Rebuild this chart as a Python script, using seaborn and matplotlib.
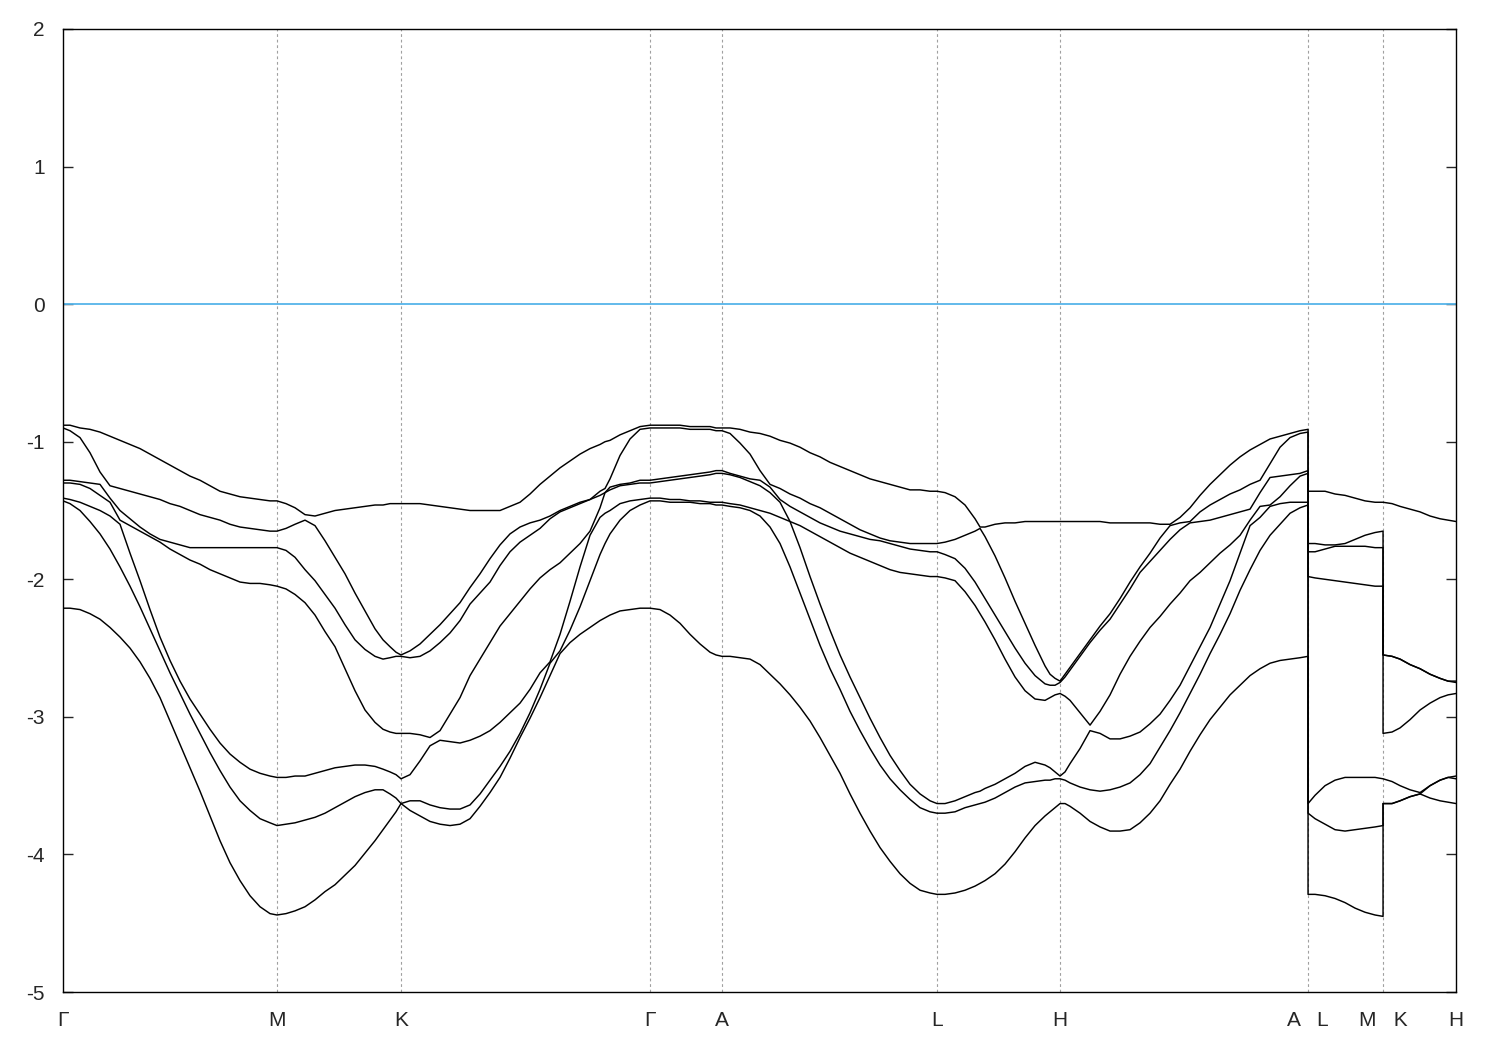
import matplotlib
matplotlib.use("Agg")
import matplotlib.pyplot as plt
import seaborn as sns
import pandas as pd

# k-path distance along G-M-K-G-A-L-H-A|L-M|K-H (points repeated at the two jumps)
kpath = [0.00, 0.07, 0.17, 0.27, 0.37, 0.47, 0.57, 0.67, 0.77, 0.87, 0.97, 1.07, 1.17, 1.27,
         1.37, 1.47, 1.57, 1.67, 1.77, 1.87, 1.97, 2.07, 2.14,
         2.23, 2.32, 2.42, 2.52, 2.62, 2.72, 2.82, 2.92, 3.02, 3.12, 3.20, 3.27, 3.33, 3.38,
         3.47, 3.57, 3.67, 3.77, 3.87, 3.97, 4.07, 4.17, 4.27, 4.37, 4.47, 4.57, 4.67, 4.77,
         4.87, 4.97, 5.07, 5.17, 5.27, 5.37, 5.42, 5.47, 5.57, 5.67, 5.77, 5.87,
         5.97, 6.07, 6.17, 6.27, 6.37, 6.47, 6.53, 6.59,
         6.67, 6.77, 6.87, 6.97, 7.07, 7.17, 7.27, 7.37, 7.47, 7.57, 7.67, 7.77, 7.87, 7.97,
         8.07, 8.17, 8.27, 8.37, 8.47, 8.57, 8.67, 8.74,
         8.82, 8.92, 9.02, 9.12, 9.17, 9.22, 9.32, 9.42, 9.52, 9.62, 9.72, 9.82, 9.87, 9.92, 9.97,
         10.02, 10.07, 10.17, 10.27, 10.37, 10.47, 10.57, 10.67, 10.77, 10.87, 10.97, 11.07,
         11.17, 11.27, 11.37, 11.47, 11.57, 11.67, 11.77, 11.87, 11.97, 12.07, 12.17, 12.27,
         12.37, 12.45,
         12.45, 12.52, 12.62, 12.72, 12.82, 12.92, 13.02, 13.12, 13.20,
         13.20, 13.29, 13.37, 13.47, 13.57, 13.67, 13.77, 13.85, 13.93]

# band energies in eV (band1 = highest), same order as kpath
band1 = [-0.88, -0.88, -0.90, -0.91, -0.93, -0.96, -0.99, -1.02, -1.05, -1.09, -1.13, -1.17,
         -1.21, -1.25, -1.28, -1.32, -1.36, -1.38, -1.40, -1.41, -1.42, -1.43, -1.43,
         -1.45, -1.48, -1.53, -1.54, -1.52, -1.50, -1.49, -1.48, -1.47, -1.46, -1.46, -1.45,
         -1.45, -1.45,
         -1.45, -1.45, -1.46, -1.47, -1.48, -1.49, -1.50, -1.50, -1.50, -1.50, -1.47, -1.44,
         -1.38, -1.31, -1.25, -1.19, -1.14, -1.09, -1.05, -1.02, -1.00, -0.99, -0.95, -0.92,
         -0.89, -0.88,
         -0.88, -0.88, -0.88, -0.89, -0.89, -0.89, -0.90, -0.90,
         -0.90, -0.91, -0.93, -0.94, -0.96, -0.99, -1.01, -1.04, -1.08, -1.11, -1.15, -1.18,
         -1.21, -1.24, -1.27, -1.29, -1.31, -1.33, -1.35, -1.35, -1.36, -1.36,
         -1.37, -1.40, -1.46, -1.56, -1.62, -1.62, -1.60, -1.59, -1.59, -1.58, -1.58, -1.58,
         -1.58, -1.58, -1.58,
         -1.58, -1.58, -1.58, -1.58, -1.58, -1.59, -1.59, -1.59, -1.59, -1.59, -1.60, -1.60,
         -1.55, -1.48, -1.39, -1.31, -1.24, -1.17, -1.11, -1.06, -1.02, -0.98, -0.96, -0.94,
         -0.92, -0.91,
         -1.36, -1.36, -1.36, -1.38, -1.39, -1.41, -1.43, -1.44, -1.44,
         -1.44, -1.45, -1.47, -1.49, -1.51, -1.54, -1.56, -1.57, -1.58]
band2 = [-0.90, -0.92, -0.97, -1.08, -1.22, -1.32, -1.34, -1.36, -1.38, -1.40, -1.42, -1.45,
         -1.47, -1.50, -1.53, -1.55, -1.57, -1.60, -1.62, -1.63, -1.64, -1.65, -1.65,
         -1.63, -1.60, -1.57, -1.61, -1.72, -1.84, -1.96, -2.10, -2.23, -2.36, -2.44, -2.49,
         -2.53, -2.55,
         -2.52, -2.47, -2.40, -2.33, -2.25, -2.17, -2.06, -1.96, -1.85, -1.75, -1.67, -1.62,
         -1.59, -1.57, -1.54, -1.50, -1.47, -1.44, -1.42, -1.36, -1.34, -1.27, -1.10, -0.98,
         -0.91, -0.90,
         -0.90, -0.90, -0.90, -0.91, -0.91, -0.91, -0.92, -0.92,
         -0.94, -1.01, -1.09, -1.21, -1.31, -1.34, -1.38, -1.41, -1.45, -1.48, -1.52, -1.56,
         -1.60, -1.64, -1.67, -1.70, -1.72, -1.73, -1.74, -1.74, -1.74, -1.74,
         -1.73, -1.71, -1.68, -1.65, -1.63, -1.69, -1.83, -1.99, -2.16, -2.32, -2.48, -2.63,
         -2.69, -2.72, -2.74,
         -2.69, -2.64, -2.54, -2.44, -2.34, -2.25, -2.14, -2.02, -1.91, -1.81, -1.70, -1.61,
         -1.59, -1.58, -1.51, -1.46, -1.42, -1.38, -1.35, -1.31, -1.28, -1.16, -1.04, -0.97,
         -0.94, -0.93,
         -1.74, -1.74, -1.75, -1.75, -1.74, -1.71, -1.68, -1.66, -1.65,
         -2.55, -2.56, -2.58, -2.62, -2.65, -2.69, -2.72, -2.74, -2.74]
band3 = [-1.28, -1.28, -1.29, -1.30, -1.31, -1.41, -1.50, -1.56, -1.62, -1.67, -1.71, -1.73,
         -1.75, -1.77, -1.77, -1.77, -1.77, -1.77, -1.77, -1.77, -1.77, -1.77, -1.77,
         -1.79, -1.84, -1.93, -2.01, -2.11, -2.21, -2.33, -2.44, -2.51, -2.56, -2.58, -2.57,
         -2.56, -2.56,
         -2.57, -2.56, -2.52, -2.46, -2.39, -2.30, -2.18, -2.10, -2.02, -1.90, -1.80, -1.73,
         -1.68, -1.63, -1.56, -1.51, -1.48, -1.45, -1.42, -1.39, -1.37, -1.33, -1.31, -1.30,
         -1.28, -1.28,
         -1.27, -1.26, -1.25, -1.24, -1.23, -1.22, -1.21, -1.21,
         -1.23, -1.25, -1.27, -1.28, -1.33, -1.42, -1.47, -1.51, -1.55, -1.59, -1.62, -1.65,
         -1.67, -1.69, -1.71, -1.72, -1.74, -1.76, -1.78, -1.79, -1.80, -1.80,
         -1.82, -1.85, -1.92, -2.02, -2.08, -2.14, -2.26, -2.38, -2.50, -2.61, -2.70, -2.76,
         -2.77, -2.77, -2.75,
         -2.71, -2.66, -2.56, -2.46, -2.37, -2.29, -2.18, -2.07, -1.95, -1.87, -1.79, -1.71,
         -1.64, -1.59, -1.58, -1.57, -1.55, -1.53, -1.51, -1.49, -1.37, -1.26, -1.25, -1.24,
         -1.23, -1.21,
         -1.80, -1.80, -1.78, -1.76, -1.76, -1.76, -1.76, -1.77, -1.77,
         -2.55, -2.56, -2.58, -2.62, -2.65, -2.69, -2.72, -2.74, -2.75]
band4 = [-1.30, -1.30, -1.31, -1.34, -1.39, -1.44, -1.57, -1.61, -1.65, -1.69, -1.73, -1.78,
         -1.82, -1.86, -1.89, -1.93, -1.96, -1.99, -2.02, -2.03, -2.03, -2.04, -2.05,
         -2.07, -2.11, -2.17, -2.26, -2.38, -2.49, -2.65, -2.81, -2.95, -3.04, -3.09, -3.11,
         -3.12, -3.12,
         -3.12, -3.13, -3.15, -3.10, -2.98, -2.86, -2.70, -2.58, -2.46, -2.34, -2.25, -2.16,
         -2.07, -1.99, -1.93, -1.88, -1.81, -1.74, -1.65, -1.48, -1.37, -1.35, -1.32, -1.31,
         -1.30, -1.30,
         -1.29, -1.28, -1.27, -1.26, -1.25, -1.24, -1.23, -1.23,
         -1.24, -1.26, -1.29, -1.32, -1.37, -1.44, -1.58, -1.61, -1.65, -1.69, -1.73, -1.77,
         -1.81, -1.84, -1.87, -1.90, -1.93, -1.95, -1.96, -1.97, -1.98, -1.98,
         -1.99, -2.01, -2.09, -2.19, -2.25, -2.31, -2.44, -2.58, -2.71, -2.81, -2.87, -2.88,
         -2.86, -2.84, -2.83,
         -2.85, -2.88, -2.97, -3.06, -2.96, -2.84, -2.69, -2.56, -2.45, -2.35, -2.27, -2.18,
         -2.10, -2.01, -1.95, -1.88, -1.81, -1.75, -1.68, -1.57, -1.47, -1.46, -1.40, -1.32,
         -1.25, -1.23,
         -1.98, -1.99, -2.00, -2.01, -2.02, -2.03, -2.04, -2.05, -2.05,
         -3.12, -3.11, -3.08, -3.02, -2.95, -2.90, -2.86, -2.84, -2.83]
band5 = [-1.41, -1.42, -1.44, -1.47, -1.50, -1.54, -1.60, -1.81, -2.01, -2.22, -2.42, -2.59,
         -2.74, -2.87, -2.98, -3.09, -3.19, -3.27, -3.33, -3.38, -3.41, -3.43, -3.44,
         -3.44, -3.43, -3.43, -3.41, -3.39, -3.37, -3.36, -3.35, -3.35, -3.36, -3.38, -3.40,
         -3.42, -3.45,
         -3.42, -3.32, -3.21, -3.17, -3.18, -3.19, -3.17, -3.14, -3.10, -3.04, -2.97, -2.90,
         -2.80, -2.68, -2.60, -2.40, -2.16, -1.91, -1.68, -1.55, -1.52, -1.50, -1.45, -1.43,
         -1.42, -1.41,
         -1.41, -1.42, -1.42, -1.43, -1.43, -1.44, -1.44, -1.44,
         -1.45, -1.46, -1.48, -1.50, -1.52, -1.55, -1.58, -1.77, -1.98, -2.18, -2.37, -2.55,
         -2.71, -2.86, -3.01, -3.15, -3.28, -3.39, -3.49, -3.56, -3.61, -3.63,
         -3.63, -3.61, -3.58, -3.55, -3.54, -3.52, -3.49, -3.45, -3.41, -3.36, -3.33, -3.35,
         -3.37, -3.40, -3.43,
         -3.40, -3.34, -3.23, -3.10, -3.12, -3.16, -3.16, -3.14, -3.11, -3.05, -2.98, -2.88,
         -2.77, -2.63, -2.49, -2.35, -2.18, -2.01, -1.81, -1.61, -1.55, -1.47, -1.45, -1.44,
         -1.44, -1.44,
         -3.63, -3.57, -3.50, -3.46, -3.44, -3.44, -3.44, -3.44, -3.45,
         -3.45, -3.47, -3.50, -3.53, -3.55, -3.50, -3.46, -3.44, -3.43]
band6 = [-1.43, -1.45, -1.50, -1.58, -1.67, -1.78, -1.91, -2.05, -2.20, -2.36, -2.52, -2.68,
         -2.83, -2.98, -3.12, -3.26, -3.39, -3.51, -3.61, -3.68, -3.74, -3.77, -3.79,
         -3.78, -3.77, -3.75, -3.73, -3.70, -3.66, -3.62, -3.58, -3.55, -3.53, -3.53, -3.56,
         -3.59, -3.63,
         -3.61, -3.61, -3.64, -3.66, -3.67, -3.67, -3.64, -3.56, -3.46, -3.36, -3.25, -3.12,
         -2.97, -2.80, -2.61, -2.52, -2.37, -2.20, -2.01, -1.82, -1.74, -1.67, -1.57, -1.50,
         -1.46, -1.43,
         -1.43, -1.44, -1.44, -1.44, -1.45, -1.45, -1.46, -1.46,
         -1.47, -1.48, -1.50, -1.54, -1.62, -1.74, -1.91, -2.10, -2.29, -2.48, -2.65, -2.80,
         -2.96, -3.10, -3.23, -3.35, -3.45, -3.53, -3.60, -3.66, -3.69, -3.70,
         -3.70, -3.69, -3.66, -3.64, -3.63, -3.62, -3.59, -3.55, -3.51, -3.48, -3.47, -3.46,
         -3.46, -3.45, -3.45,
         -3.46, -3.48, -3.51, -3.53, -3.54, -3.53, -3.51, -3.48, -3.42, -3.34, -3.22, -3.10,
         -2.97, -2.83, -2.69, -2.54, -2.40, -2.25, -2.08, -1.93, -1.79, -1.68, -1.60, -1.52,
         -1.48, -1.46,
         -3.70, -3.74, -3.78, -3.82, -3.83, -3.82, -3.81, -3.80, -3.79,
         -3.63, -3.63, -3.61, -3.58, -3.56, -3.50, -3.46, -3.44, -3.45]
band7 = [-2.21, -2.21, -2.22, -2.25, -2.29, -2.35, -2.42, -2.50, -2.60, -2.72, -2.86, -3.03,
         -3.20, -3.37, -3.54, -3.72, -3.90, -4.06, -4.19, -4.30, -4.38, -4.43, -4.44,
         -4.43, -4.41, -4.38, -4.33, -4.27, -4.22, -4.15, -4.08, -3.99, -3.90, -3.82, -3.75,
         -3.69, -3.63,
         -3.68, -3.72, -3.76, -3.78, -3.79, -3.78, -3.74, -3.65, -3.55, -3.44, -3.30, -3.15,
         -3.01, -2.86, -2.70, -2.54, -2.46, -2.40, -2.35, -2.30, -2.28, -2.26, -2.23, -2.22,
         -2.21, -2.21,
         -2.22, -2.26, -2.32, -2.40, -2.47, -2.53, -2.55, -2.56,
         -2.56, -2.57, -2.58, -2.62, -2.69, -2.76, -2.84, -2.93, -3.03, -3.15, -3.28, -3.41,
         -3.56, -3.70, -3.83, -3.95, -4.05, -4.14, -4.21, -4.26, -4.28, -4.29,
         -4.29, -4.28, -4.26, -4.23, -4.21, -4.19, -4.14, -4.07, -3.98, -3.88, -3.79, -3.72,
         -3.69, -3.66, -3.63,
         -3.63, -3.65, -3.70, -3.76, -3.80, -3.83, -3.83, -3.82, -3.77, -3.70, -3.61, -3.49,
         -3.38, -3.25, -3.13, -3.02, -2.93, -2.84, -2.77, -2.70, -2.65, -2.61, -2.59, -2.58,
         -2.57, -2.56,
         -4.29, -4.29, -4.30, -4.32, -4.35, -4.39, -4.42, -4.44, -4.45,
         -3.63, -3.63, -3.61, -3.58, -3.56, -3.59, -3.61, -3.62, -3.63]

sym_k = [0.00, 2.14, 3.38, 5.87, 6.59, 8.74, 9.97, 12.45, 13.20, 13.93]
sym_labels = ["\u0393", "M", "K", "\u0393", "A", "L", "H", "A   L", "M   K", "H"]

bands = [band1, band2, band3, band4, band5, band6, band7]
df = pd.concat([pd.DataFrame({"k": kpath, "energy": b, "band": i})
                for i, b in enumerate(bands)], ignore_index=True)

sns.set_style("white")
plt.rcParams["font.family"] = ["Liberation Sans", "DejaVu Sans"]
plt.rcParams["axes.unicode_minus"] = False

fig = plt.figure(figsize=(15, 10.5), dpi=100)
ax = fig.add_axes([0.042, 0.0552, 0.9287, 0.9172])

for x in sym_k[1:-1]:
    ax.axvline(x, color="#a0a0a0", lw=0.8, ls=(0, (2.5, 2.5)), zorder=0)
ax.axhline(0, color="#56b4e9", lw=1.3, zorder=1)

sns.lineplot(data=df, x="k", y="energy", units="band", estimator=None, sort=False,
             color="black", lw=1.05, legend=False, ax=ax)

ax.set_xlim(sym_k[0], sym_k[-1])
ax.set_ylim(-5, 2)
ax.set_xticks(sym_k)
ax.set_xticklabels(sym_labels)
ax.set_yticks(range(-5, 3))
ax.set_xlabel("")
ax.set_ylabel("")
ax.tick_params(axis="x", length=0, pad=14, labelsize=15)
ax.tick_params(axis="y", direction="in", length=7, width=1, left=True, right=True,
               pad=13, labelsize=15)
for s in ax.spines.values():
    s.set_color("black")
    s.set_linewidth(1.0)

fig.savefig("out.png", dpi=100)
